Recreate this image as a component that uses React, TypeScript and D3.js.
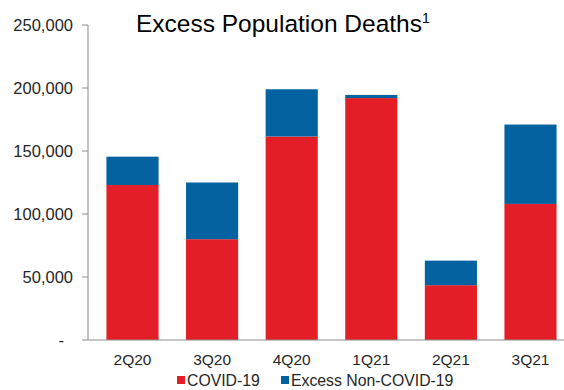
import React from "react";
import * as d3 from "d3";

const categories = ["2Q20", "3Q20", "4Q20", "1Q21", "2Q21", "3Q21"];
const covidDeaths = [123000, 80000, 161500, 192000, 43500, 108000];
const nonCovidDeaths = [22500, 45000, 37500, 2500, 19500, 63000];
const yTicks = [0, 50000, 100000, 150000, 200000, 250000];
const seriesNames = ["COVID-19", "Excess Non-COVID-19"];
const seriesColors = ["#E31E26", "#0562A1"];

const W = 564;
const H = 390;
const FONT = "'Liberation Sans', Arial, sans-serif";

export default function App() {
  const y = d3.scaleLinear().domain([0, 250000]).range([340, 25]);
  const x = d3
    .scaleBand<string>()
    .domain(categories)
    .range([92.7, 570.3])
    .paddingInner(0.345)
    .paddingOuter(0.1725);

  const rows = categories.map((c, i) => ({ cat: c, covid: covidDeaths[i], non: nonCovidDeaths[i] }));
  const stack = d3.stack<any>().keys(["covid", "non"])(rows);
  const fmt = (v: number) => (v === 0 ? "-" : d3.format(",")(v));

  return (
    <svg width={W} height={H} style={{ position: "absolute", left: 0, top: 0, background: "#fff" }}>
      <rect x={0} y={0} width={W} height={H} fill="#fff" />
      {stack.map((s, si) =>
        s.map((d, i) => (
          <rect
            key={`${si}-${i}`}
            x={x(categories[i])!}
            y={y(d[1])}
            width={x.bandwidth()}
            height={y(d[0]) - y(d[1])}
            fill={seriesColors[si]}
          />
        ))
      )}
      {/* y axis */}
      <line x1={88} x2={88} y1={y(250000)} y2={y(0)} stroke="#8c8c8c" strokeWidth={1} />
      {yTicks.map((t) => (
        <g key={t}>
          <line x1={82} x2={88} y1={y(t)} y2={y(t)} stroke="#8c8c8c" strokeWidth={1} />
          <text
            x={t === 0 ? 64 : 73}
            y={y(t)}
            dy="0.35em"
            textAnchor="end"
            fontFamily={FONT}
            fontSize={16.5}
            fill="#262626"
          >
            {fmt(t)}
          </text>
        </g>
      ))}
      {/* x axis */}
      <line x1={88} x2={W} y1={y(0)} y2={y(0)} stroke="#8c8c8c" strokeWidth={1} />
      {categories.map((c) => (
        <text
          key={c}
          x={x(c)! + x.bandwidth() / 2}
          y={365}
          textAnchor="middle"
          fontFamily={FONT}
          fontSize={15.5}
          fill="#262626"
        >
          {c}
        </text>
      ))}
      {/* title */}
      <text x={136} y={32} fontFamily={FONT} fontSize={24.5} fill="#000">
        Excess Population Deaths
        <tspan fontSize={14} dy={-9}>1</tspan>
      </text>
      {/* legend */}
      {seriesNames.map((n, i) => {
        const lx = i === 0 ? 177 : 281;
        return (
          <g key={n}>
            <rect x={lx} y={376} width={8} height={8} fill={seriesColors[i]} />
            <text x={lx + 10} y={386} fontFamily={FONT} fontSize={15.8} fill="#262626">
              {n}
            </text>
          </g>
        );
      })}
    </svg>
  );
}
